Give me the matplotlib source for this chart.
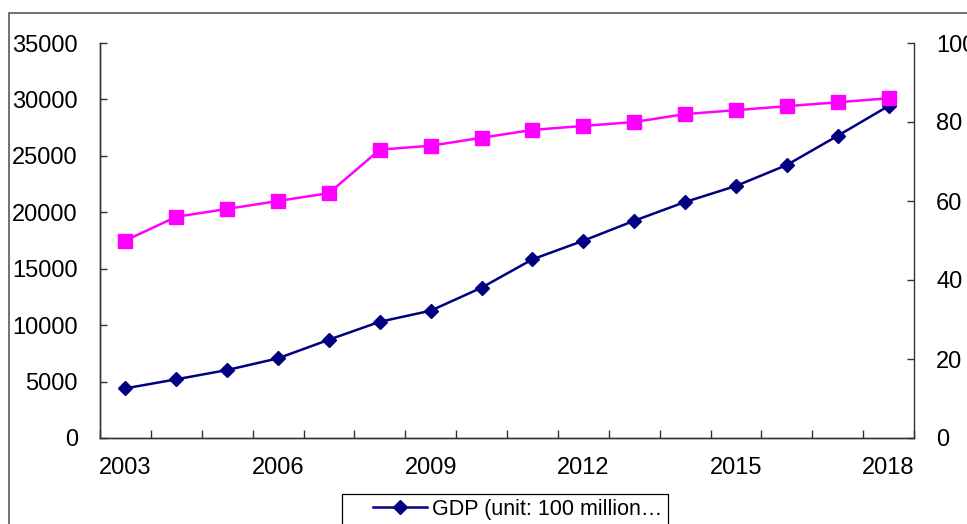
import matplotlib
matplotlib.use("Agg")
import matplotlib.pyplot as plt
from matplotlib.patches import Rectangle
from matplotlib.lines import Line2D

plt.rcParams['font.family'] = ['Liberation Sans', 'DejaVu Sans']

years = list(range(2003, 2019))
gdp = [4400, 5200, 6025, 7060, 8710, 10300, 11280, 13320,
       15830, 17480, 19250, 20910, 22330, 24190, 26780, 29420]
urban = [50, 56, 58, 60, 62, 73, 74, 76, 78, 79, 80, 82, 83, 84, 85, 86]
label_years = [2003, 2006, 2009, 2012, 2015, 2018]
gdp_label = "GDP (unit: 100 million\u2026"

W, H = 967, 524
fig = plt.figure(figsize=(W / 100, H / 100), dpi=100)

# outer chart border (runs off the right and bottom edge)
fig.patches.append(Rectangle((9 / W, -0.1), 1.2, (H - 13) / H + 0.1,
                             transform=fig.transFigure, fill=False,
                             edgecolor='#595959', lw=1.2))

ax = fig.add_axes([100 / W, 1 - 438 / H, 814 / W, 395 / H])
ax2 = ax.twinx()

xs = [i + 0.5 for i in range(len(years))]
ax.plot(xs, gdp, color='#000080', lw=1.8, marker='D', ms=6.8, zorder=3)
ax2.plot(xs, urban, color='#FF00FF', lw=1.8, marker='s', ms=10.5, zorder=3)

ax.set_xlim(0, len(years))
ax.set_ylim(0, 35000)
ax.set_yticks(range(0, 35001, 5000))
ax2.set_ylim(0, 100)
ax2.set_yticks(range(0, 101, 20))

# category boundaries get the tick marks, labels sit in the middle
ax.set_xticks(range(len(years) + 1))
ax.set_xticklabels([])
ax.set_xticks([years.index(y) + 0.5 for y in label_years], minor=True)
ax.set_xticklabels([str(y) for y in label_years], minor=True)

for a in (ax, ax2):
    a.spines['top'].set_visible(False)
    for s in a.spines.values():
        s.set_color('#333333')
        s.set_linewidth(1.0)
ax.spines['right'].set_visible(False)

ax.tick_params(axis='y', direction='in', length=5, width=1, pad=16,
               labelsize=17, colors='#333333', labelcolor='black')
ax2.tick_params(axis='y', direction='in', length=5, width=1, pad=16,
                labelsize=17, colors='#333333', labelcolor='black')
ax.tick_params(axis='x', which='major', direction='in', length=6, width=1,
               colors='#333333')
ax.tick_params(axis='x', which='minor', length=0, pad=14, labelsize=17,
               labelcolor='black')

# legend box, partly below the figure
fig.patches.append(Rectangle((342 / W, -0.1), (668 - 342) / W, 0.1 + (H - 494) / H,
                             transform=fig.transFigure, fill=False,
                             edgecolor='black', lw=0.9))
handle = Line2D([], [], color='#000080', lw=1.8, marker='D', ms=6.8)
fig.legend([handle], [gdp_label], loc='upper left',
           bbox_to_anchor=(373 / W, 1 - 499 / H), frameon=False,
           fontsize=15.5, handlelength=2.5, handletextpad=0.22,
           borderpad=0, borderaxespad=0)

fig.savefig("out.png", dpi=100)
